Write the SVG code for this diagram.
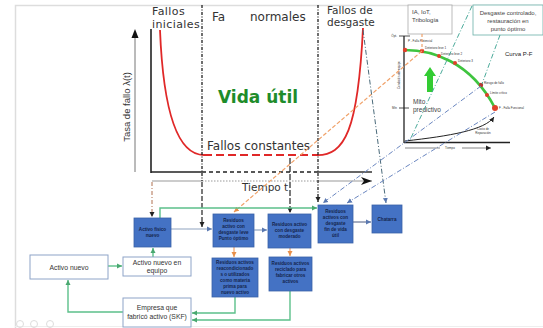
<svg xmlns="http://www.w3.org/2000/svg" width="543" height="328" viewBox="0 0 543 328">
<defs>
<style>
.lbl{font-family:"DejaVu Sans",sans-serif;fill:#333}
.fc{font-family:"Liberation Sans",Arial,sans-serif}
.blue{fill:#4472c4;stroke:#3a62a8;stroke-width:0.8}
.bt{font-family:"Liberation Sans",Arial,sans-serif;font-size:4.6px;font-weight:bold;fill:#14254d;text-anchor:middle}
.wbox{fill:#fff;stroke:#8ea4c8;stroke-width:1}
.wt{font-family:"Liberation Sans",Arial,sans-serif;font-size:6.8px;fill:#333;text-anchor:middle}
.tiny{font-family:"Liberation Sans",Arial,sans-serif;font-size:3px;fill:#333}
.green{stroke:#5cc08a;stroke-width:1.4;fill:none}
.grayc{stroke:#8fa3c0;stroke-width:1.2;fill:none}
.orange{stroke:#f0a26a;stroke-width:1.2;fill:none}
.dd{stroke:#222;stroke-width:1.3;fill:none;stroke-dasharray:3,1.5,1,1.5}
</style>
<marker id="ag" markerWidth="6" markerHeight="6" refX="5" refY="3" orient="auto" markerUnits="userSpaceOnUse"><path d="M0,0.5 L5,3 L0,5.5z" fill="#4aa870"/></marker>
<marker id="ak" markerWidth="6" markerHeight="6" refX="5" refY="3" orient="auto" markerUnits="userSpaceOnUse"><path d="M0,0.5 L5,3 L0,5.5z" fill="#222"/></marker>
<marker id="ao" markerWidth="6" markerHeight="6" refX="5" refY="3" orient="auto" markerUnits="userSpaceOnUse"><path d="M0,0.5 L5,3 L0,5.5z" fill="#e8904a"/></marker>
<marker id="ab" markerWidth="6" markerHeight="6" refX="5" refY="3" orient="auto" markerUnits="userSpaceOnUse"><path d="M0,0.5 L5,3 L0,5.5z" fill="#5a78b0"/></marker>
<marker id="abig" markerWidth="12" markerHeight="10" refX="11" refY="5" orient="auto" markerUnits="userSpaceOnUse"><path d="M0,1 L11,5 L0,9 L3,5z" fill="#111"/></marker>
</defs>
<rect width="543" height="328" fill="#fff"/>
<path d="M15.5,328 V5.5 H543" fill="none" stroke="#ddd" stroke-width="1.5"/>
<path d="M15,326.5 H543" fill="none" stroke="#eee" stroke-width="1"/>
<g fill="none" stroke="#ddd" stroke-width="1"><circle cx="20" cy="324" r="3.5"/><circle cx="34" cy="324" r="3.5"/><circle cx="50" cy="324" r="3.5"/></g>

<g id="chart">
<line x1="135" y1="172" x2="135" y2="34" stroke="#777" stroke-width="1"/>
<path d="M131.5,38 L135,29 L138.5,38z" fill="#111"/>
<text class="fc" transform="translate(130,107) rotate(-90)" font-size="9.5" fill="#333" text-anchor="middle">Tasa de fallo λ(t)</text>
<line x1="151" y1="29" x2="151" y2="173" stroke="#222" stroke-width="1.6"/>
<line x1="151" y1="172" x2="202" y2="172" stroke="#222" stroke-width="1.4"/>
<line x1="202" y1="172" x2="318" y2="172" stroke="#222" stroke-width="1.4" stroke-dasharray="4,3"/>
<line x1="318" y1="172" x2="372" y2="172" stroke="#333" stroke-width="1.4"/>
<line x1="152" y1="181" x2="202" y2="181" stroke="#999" stroke-width="1"/>
<line x1="202" y1="181" x2="318" y2="181" stroke="#999" stroke-width="1" stroke-dasharray="1.5,1.5"/>
<line x1="318" y1="181" x2="372" y2="181" stroke="#999" stroke-width="1" marker-end="url(#abig)"/>
<text class="lbl" x="242" y="191" font-size="10.5">Tiempo t</text>
<path d="M160,30 C163,105 176,155 204,155" fill="none" stroke="#e02828" stroke-width="1.8"/>
<line x1="204" y1="155" x2="318" y2="155" stroke="#e02828" stroke-width="1.8" stroke-dasharray="8,4"/>
<path d="M316,155 C345,156 358,130 363,28" fill="none" stroke="#e02828" stroke-width="1.8"/>
<text class="lbl" x="152" y="15" font-size="11" letter-spacing="0.4">Fallos</text>
<text class="lbl" x="152" y="27.5" font-size="11" letter-spacing="0.4">iniciales</text>
<text class="lbl" x="212" y="21" font-size="12">Fa</text>
<text class="lbl" x="250" y="21" font-size="12">normales</text>
<text class="lbl" x="327" y="14" font-size="10.5">Fallos de</text>
<text class="lbl" x="327" y="26" font-size="10.5">desgaste</text>
<text x="218" y="103" font-family="DejaVu Sans,sans-serif" font-weight="bold" font-size="17" fill="#1e8c2a">Vida útil</text>
<text class="lbl" x="207" y="150" font-size="12">Fallos constantes</text>
</g>

<g id="pf">
<rect x="408" y="5" width="44" height="29" fill="#fff" stroke="#aaa" stroke-width="0.8"/>
<text class="fc" x="412" y="14" font-size="6" fill="#444">IA, IoT,</text>
<text class="fc" x="412" y="22" font-size="6" fill="#444">Tribología</text>
<rect x="473" y="5" width="70" height="30" fill="#fff" stroke="#6ab0a8" stroke-width="0.8"/>
<text class="fc" x="508" y="15" font-size="6" fill="#444" text-anchor="middle">Desgaste controlado,</text>
<text class="fc" x="508" y="23" font-size="6" fill="#444" text-anchor="middle">restauración en</text>
<text class="fc" x="508" y="31" font-size="6" fill="#444" text-anchor="middle">punto óptimo</text>
<text class="fc" x="505" y="56" font-size="6" fill="#222">Curva P-F</text>
<line x1="404" y1="36" x2="404" y2="143" stroke="#222" stroke-width="1.3"/>
<line x1="404" y1="142.5" x2="510" y2="142.5" stroke="#222" stroke-width="1.3"/>
<line x1="399" y1="36" x2="410" y2="36" stroke="#222" stroke-width="0.8"/>
<line x1="399" y1="108" x2="409" y2="108" stroke="#222" stroke-width="0.8"/>
<text class="tiny" x="397" y="37" text-anchor="end">Ópt.</text>
<text class="tiny" x="397" y="109" text-anchor="end">Mín</text>
<text class="tiny" transform="translate(400,75) rotate(-90)" text-anchor="middle">Condición del equipo</text>
<path d="M405,50 C430,50 470,60 495,108" fill="none" stroke="#3fc43f" stroke-width="2.6"/>
<g fill="#e0402a"><circle cx="405" cy="50" r="2.2"/><circle cx="422" cy="51" r="2.2"/><circle cx="439" cy="56" r="2"/><circle cx="455" cy="63" r="2"/><circle cx="481" cy="85" r="2.2" fill="#b83a30"/><circle cx="487" cy="95" r="2"/><circle cx="495" cy="108" r="3"/></g>
<text class="tiny" x="408" y="42">P - Falla Potencial</text>
<text class="tiny" x="425" y="49">Deterioro leve 1</text>
<text class="tiny" x="441" y="55">Deterioro leve 2</text>
<text class="tiny" x="458" y="62">Deterioro 3</text>
<text class="tiny" x="484" y="84">Riesgo de fallo</text>
<text class="tiny" x="490" y="94">Límite crítico</text>
<text class="tiny" x="499" y="109">F - Falla Funcional</text>
<path d="M427,92 V76 H424 L430,67 L436,76 H433 V92z" fill="#33cc33"/>
<text class="fc" x="413" y="104" font-size="6.5" fill="#444">Mito</text>
<text class="fc" x="413" y="112" font-size="6.5" fill="#444">predictivo</text>
<path d="M405,141 C450,136 485,130 494,117" fill="none" stroke="#222" stroke-width="1" marker-end="url(#ak)"/>
<text class="tiny" x="483" y="130" text-anchor="middle">Costo de</text>
<text class="tiny" x="483" y="134" text-anchor="middle">Reparación</text>
<line x1="405" y1="148" x2="440" y2="148" stroke="#333" stroke-width="0.6"/>
<text class="tiny" x="450" y="149" text-anchor="middle">Tiempo</text>
<line x1="462" y1="148" x2="491" y2="148" stroke="#333" stroke-width="0.6" marker-end="url(#ak)"/>
</g>

<g id="connectors">
<line x1="202" y1="5" x2="202" y2="181" class="dd"/>
<line x1="202" y1="182" x2="202" y2="227" stroke="#222" stroke-width="1.2" stroke-dasharray="5,2" marker-end="url(#ak)"/>
<line x1="318" y1="5" x2="318" y2="202" class="dd" marker-end="url(#ak)"/>
<line x1="290" y1="158" x2="290" y2="213" stroke="#222" stroke-width="1.2" stroke-dasharray="6,2" marker-end="url(#ak)"/>
<line x1="152" y1="182" x2="152" y2="217" stroke="#b07050" stroke-width="1" stroke-dasharray="4,2,1,2" marker-end="url(#ak)"/>
<line x1="422" y1="34" x2="422" y2="50" class="orange" stroke-dasharray="3,2"/>
<line x1="422" y1="51" x2="234" y2="212" class="orange" stroke-dasharray="4,2" marker-end="url(#ao)"/>
<line x1="363" y1="30" x2="386" y2="203" stroke="#4a6a7a" stroke-width="1" stroke-dasharray="5,2,1,2" marker-end="url(#ab)"/>
<line x1="472" y1="6" x2="410" y2="140" stroke="#4aaa9a" stroke-width="1" stroke-dasharray="5,2,1,2"/>
<line x1="500" y1="35" x2="482" y2="84" stroke="#4aaa9a" stroke-width="1" stroke-dasharray="5,2,1,2"/>
<line x1="481" y1="86" x2="323" y2="203" stroke="#6a86c0" stroke-width="1" stroke-dasharray="5,2,1,2" marker-end="url(#ab)"/>
<line x1="495" y1="112" x2="347" y2="203" stroke="#6a86c0" stroke-width="1" stroke-dasharray="5,2,1,2" marker-end="url(#ab)"/>
<path d="M160,218 V208 H317" class="green" marker-end="url(#ag)"/>
<line x1="171" y1="229" x2="212" y2="229" class="grayc" marker-end="url(#ab)"/>
<line x1="254" y1="230" x2="267" y2="230" class="grayc" marker-end="url(#ab)"/>
<line x1="353" y1="222" x2="371" y2="222" stroke="#4a5a80" stroke-width="1" marker-end="url(#ab)"/>
<line x1="234" y1="247" x2="234" y2="257" class="orange" marker-end="url(#ao)"/>
<line x1="290" y1="248" x2="290" y2="256" class="orange" marker-end="url(#ao)"/>
<line x1="108" y1="266" x2="122" y2="266" class="green" marker-end="url(#ag)"/>
<line x1="153" y1="257" x2="153" y2="248" class="green" marker-end="url(#ag)"/>
<path d="M123,312 H68 V280" class="green" marker-end="url(#ag)"/>
<path d="M235,297 V313 H192" class="green" marker-end="url(#ag)"/>
<path d="M290,291 V320 H192" class="green" marker-end="url(#ag)"/>
</g>

<g id="activo-fisico-nuevo"><rect x="134" y="218" width="37" height="29" class="blue"/><text class="bt" x="152.5" y="231">Activo físico</text><text class="bt" x="152.5" y="237">nuevo</text></g>
<g id="activo-nuevo"><rect x="30" y="255" width="78" height="24" class="wbox"/><text class="wt" x="69" y="269.5">Activo nuevo</text></g>
<g id="activo-nuevo-equipo"><rect x="123" y="257" width="68" height="19" class="wbox"/><text class="wt" x="157" y="264.5">Activo nuevo en</text><text class="wt" x="157" y="272.5">equipo</text></g>
<g id="empresa"><rect x="123" y="298" width="68" height="29" class="wbox"/><text class="wt" x="157" y="309.5">Empresa que</text><text class="wt" x="157" y="318.5">fabricó activo (SKF)</text></g>
<g id="residuo-leve"><rect x="213" y="214" width="41" height="33" class="blue"/><text class="bt" x="233.5" y="222">Residuos</text><text class="bt" x="233.5" y="228">activo con</text><text class="bt" x="233.5" y="234">desgaste leve</text><text class="bt" x="233.5" y="240">Punto óptimo</text></g>
<g id="residuo-moderado"><rect x="268" y="214" width="43" height="34" class="blue"/><text class="bt" x="289.5" y="226">Residuos activo</text><text class="bt" x="289.5" y="232">con desgaste</text><text class="bt" x="289.5" y="238">moderado</text></g>
<g id="residuo-fin"><rect x="318" y="205" width="35" height="38" class="blue"/><text class="bt" x="335.5" y="213">Residuos</text><text class="bt" x="335.5" y="219">activos con</text><text class="bt" x="335.5" y="225">desgaste</text><text class="bt" x="335.5" y="231">fin de vida</text><text class="bt" x="335.5" y="237">útil</text></g>
<g id="chatarra"><rect x="372" y="205" width="30" height="28" class="blue"/><text class="bt" x="387" y="221">Chatarra</text></g>
<g id="reacondicionados"><rect x="212" y="258" width="46" height="39" class="blue"/><text class="bt" x="235" y="263.5">Residuos activos</text><text class="bt" x="235" y="269.5">reacondicionado</text><text class="bt" x="235" y="275.5">s o utilizados</text><text class="bt" x="235" y="281.5">como materia</text><text class="bt" x="235" y="287.5">prima para</text><text class="bt" x="235" y="293.5">nuevo activo</text></g>
<g id="reciclado"><rect x="269" y="257" width="43" height="34" class="blue"/><text class="bt" x="290.5" y="265">Residuos activos</text><text class="bt" x="290.5" y="271">reciclado  para</text><text class="bt" x="290.5" y="277">fabricar otros</text><text class="bt" x="290.5" y="283">activos</text></g>
</svg>
